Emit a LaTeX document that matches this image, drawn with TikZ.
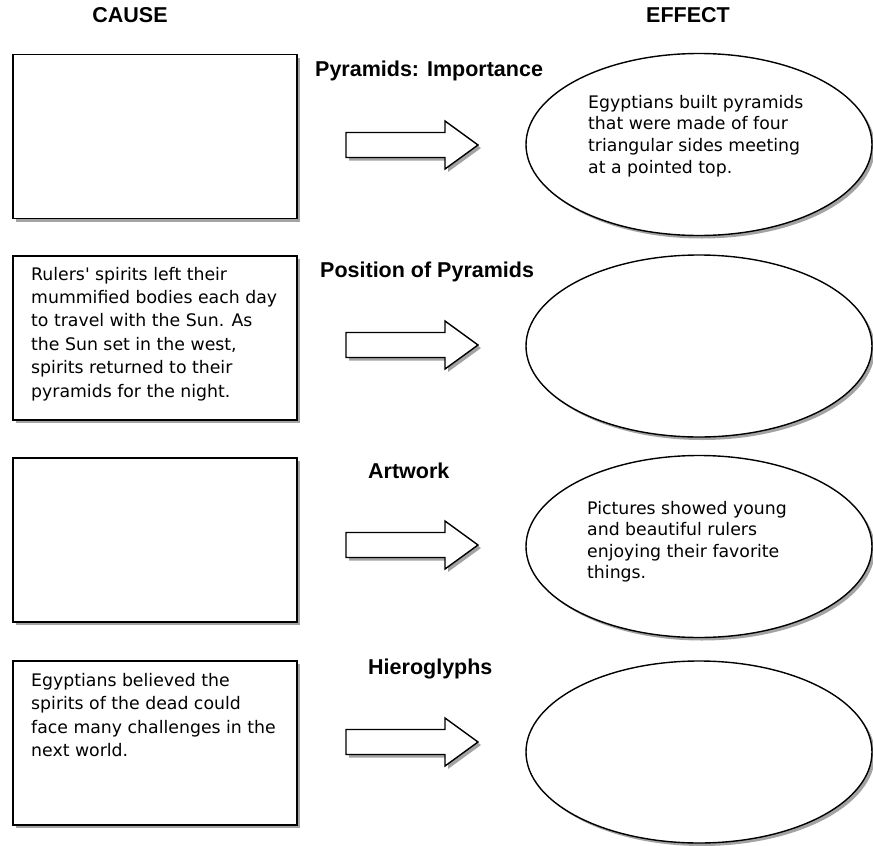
\documentclass[tikz,border=0pt]{standalone}
\usepackage{fontspec}
\setmainfont{Liberation Sans}
\newfontfamily\bodyfont{DejaVu Sans}
\usetikzlibrary{shapes.geometric,shadows}
\begin{document}
\begin{tikzpicture}[x=1pt,y=-1pt,
  shad/.style={drop shadow={shadow xshift=3pt,shadow yshift=-3pt,fill=black!45,opacity=0.8}},
  causebox/.style={draw,line width=1.8pt,fill=white,rectangle,minimum width=284pt,minimum height=164pt,inner sep=0pt,shad},
  effectoval/.style={draw,line width=1.4pt,fill=white,ellipse,minimum width=346pt,minimum height=182pt,inner sep=0pt,shad},
  blockarrow/.style={draw,line width=1.4pt,fill=white,line join=miter,shad},
  title/.style={font=\fontsize{21.5}{25}\selectfont\bfseries,inner sep=0pt,anchor=base},
  heading/.style={font=\fontsize{21.5}{25}\selectfont\bfseries,inner sep=0pt,anchor=base west},
  bodytxt/.style={align=left,inner sep=0pt,anchor=north west}
]
\useasboundingbox (0,0) rectangle (873,846);
\fill[white] (0,0) rectangle (873,846);

% titles
\node[title] (cause) at (130,22) {CAUSE};
\node[title] (effect) at (688,22) {EFFECT};

% cause boxes
\node[causebox] (c1) at (155,136.5) {};
\node[causebox] (c2) at (155,338) {};
\node[causebox] (c3) at (155,540) {};
\node[causebox] (c4) at (155,743) {};

% effect ovals
\node[effectoval] (e1) at (699,144.5) {};
\node[effectoval] (e2) at (699,346) {};
\node[effectoval] (e3) at (699,546.5) {};
\node[effectoval] (e4) at (699,752) {};

% block arrows
\foreach \c/\n in {145/a1,345/a2,545/a3,742/a4}{
  \coordinate (\n) at (412,\c);
  \draw[blockarrow] (346,\c-12.5) -- (445,\c-12.5) -- (445,\c-24) -- (478,\c)
     -- (445,\c+24) -- (445,\c+12.5) -- (346,\c+12.5) -- cycle;
}

% headings
\node[heading] (h1) at (315,76) {Pyramids: Importance};
\node[heading] (h2) at (320,277) {Position of Pyramids};
\node[heading] (h3) at (368,478) {Artwork};
\node[heading] (h4) at (368,674) {Hieroglyphs};

% texts
\node[bodytxt,font=\bodyfont\fontsize{17.3}{23.4}\selectfont] (t2) at (31,263.6)
 {\strut Rulers' spirits left their\\mummified bodies each day\\to travel with the Sun. As\\the Sun set in the west,\\spirits returned to their\\pyramids for the night.};
\node[bodytxt,font=\bodyfont\fontsize{17.3}{23.1}\selectfont] (t4) at (31,670.5)
 {\strut Egyptians believed the\\spirits of the dead could\\face many challenges in the\\next world.};
\node[bodytxt,font=\bodyfont\fontsize{17.3}{21.7}\selectfont] (t1) at (588,92.8)
 {\strut Egyptians built pyramids\\that were made of four\\triangular sides meeting\\at a pointed top.};
\node[bodytxt,font=\bodyfont\fontsize{17.3}{21.5}\selectfont] (t3) at (587,499)
 {\strut Pictures showed young\\and beautiful rulers\\enjoying their favorite\\things.};
\end{tikzpicture}
\end{document}
